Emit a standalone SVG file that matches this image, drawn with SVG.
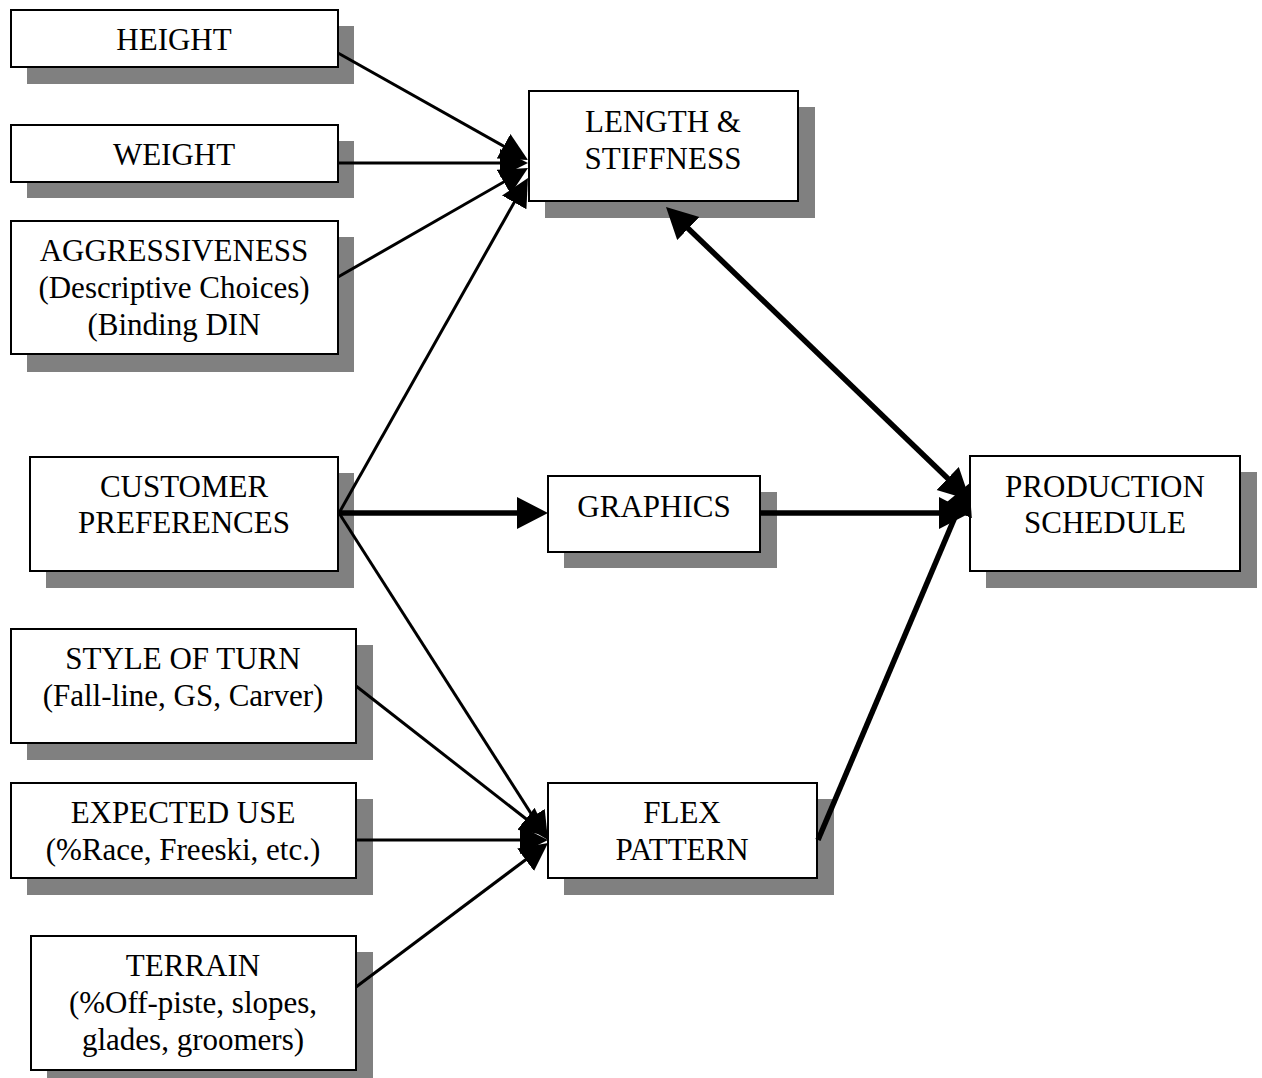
<svg xmlns="http://www.w3.org/2000/svg" width="1262" height="1078" viewBox="0 0 1262 1078">
<style>
.sh{fill:#808080}
.bx{fill:#fff;stroke:#000;stroke-width:2}
text{font-family:"Liberation Serif","Times New Roman",serif;font-size:31px;fill:#000;text-anchor:middle}
.thin{stroke:#000;stroke-width:3;fill:none}
.thick{stroke:#000;stroke-width:5.5;fill:none}
</style>
<defs>
<marker id="a" markerUnits="userSpaceOnUse" markerWidth="30" markerHeight="30" refX="13" refY="14" orient="auto-start-reverse"><path d="M0,0 L28,14 L0,28 z" fill="#000"/></marker>
<marker id="b" markerUnits="userSpaceOnUse" markerWidth="34" markerHeight="34" refX="11" refY="16" orient="auto-start-reverse"><path d="M0,0 L31,16 L0,32 z" fill="#000"/></marker>
</defs>
<rect x="0" y="0" width="1262" height="1078" fill="#fff"/>
<g id="height"><rect class="sh" x="27" y="26" width="327" height="58"/><rect class="bx" x="11" y="10" width="327" height="57"/><text x="174" y="50">HEIGHT</text></g>
<g id="weight"><rect class="sh" x="27" y="141" width="327" height="57"/><rect class="bx" x="11" y="125" width="327" height="57"/><text x="174" y="165">WEIGHT</text></g>
<g id="aggressiveness"><rect class="sh" x="27" y="237" width="327" height="135"/><rect class="bx" x="11" y="221" width="327" height="133"/><text x="174" y="261">AGGRESSIVENESS</text><text x="174" y="298">(Descriptive Choices)</text><text x="174" y="335">(Binding DIN</text></g>
<g id="customer"><rect class="sh" x="46" y="473" width="308" height="115"/><rect class="bx" x="30" y="457" width="308" height="114"/><text x="184" y="497">CUSTOMER</text><text x="184" y="533">PREFERENCES</text></g>
<g id="style"><rect class="sh" x="27" y="645" width="346" height="115"/><rect class="bx" x="11" y="629" width="345" height="114"/><text x="183" y="669">STYLE OF TURN</text><text x="183" y="706">(Fall-line, GS, Carver)</text></g>
<g id="expected"><rect class="sh" x="27" y="799" width="346" height="96"/><rect class="bx" x="11" y="783" width="345" height="95"/><text x="183" y="823">EXPECTED USE</text><text x="183" y="860">(%Race, Freeski, etc.)</text></g>
<g id="terrain"><rect class="sh" x="47" y="952" width="326" height="126"/><rect class="bx" x="31" y="936" width="325" height="134"/><text x="193" y="976">TERRAIN</text><text x="193" y="1013">(%Off-piste, slopes,</text><text x="193" y="1050">glades, groomers)</text></g>
<g id="length"><rect class="sh" x="545" y="107" width="270" height="111"/><rect class="bx" x="529" y="91" width="269" height="110"/><text x="663" y="132">LENGTH &amp;</text><text x="663" y="169">STIFFNESS</text></g>
<g id="graphics"><rect class="sh" x="564" y="492" width="213" height="76"/><rect class="bx" x="548" y="476" width="212" height="76"/><text x="654" y="517">GRAPHICS</text></g>
<g id="flex"><rect class="sh" x="564" y="799" width="270" height="96"/><rect class="bx" x="548" y="783" width="269" height="95"/><text x="682" y="823">FLEX</text><text x="682" y="860">PATTERN</text></g>
<g id="production"><rect class="sh" x="986" y="472" width="271" height="116"/><rect class="bx" x="970" y="456" width="270" height="115"/><text x="1105" y="497">PRODUCTION</text><text x="1105" y="533">SCHEDULE</text></g>
<g id="connectors">
<line class="thin" x1="338" y1="53" x2="514.9" y2="152.6" marker-end="url(#a)"/>
<line class="thin" x1="338" y1="163" x2="513" y2="163" marker-end="url(#a)"/>
<line class="thin" x1="338" y1="277" x2="515" y2="175.5" marker-end="url(#a)"/>
<line class="thin" x1="339" y1="513" x2="520.6" y2="191.1" marker-end="url(#a)"/>
<line class="thick" x1="338" y1="513" x2="528" y2="513" marker-end="url(#b)"/>
<line class="thin" x1="339" y1="513" x2="539.9" y2="827.4" marker-end="url(#a)"/>
<line class="thin" x1="356" y1="686" x2="536.2" y2="826.8" marker-end="url(#a)"/>
<line class="thin" x1="356" y1="840" x2="533" y2="840" marker-end="url(#a)"/>
<line class="thin" x1="356" y1="987" x2="536" y2="852" marker-end="url(#a)"/>
<line class="thick" x1="760" y1="513" x2="950" y2="513" marker-end="url(#b)"/>
<line class="thick" x1="818" y1="840" x2="961.4" y2="501.9" marker-end="url(#b)"/>
<line class="thick" x1="680.4" y1="220.9" x2="955.6" y2="486.1" marker-start="url(#b)" marker-end="url(#b)"/>
</g>
</svg>
